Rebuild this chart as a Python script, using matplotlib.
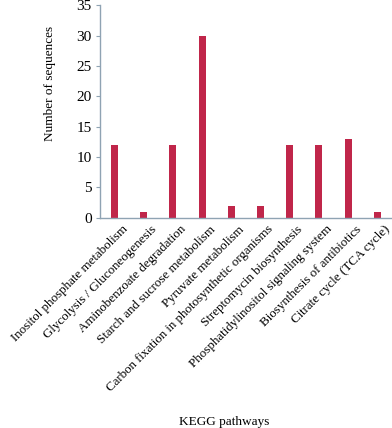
import matplotlib

matplotlib.use("Agg")
import matplotlib.pyplot as plt
import matplotlib.transforms as mtransforms

pathways = [
    "Inositol phosphate metabolism",
    "Glycolysis / Gluconeogenesis",
    "Aminobenzoate degradation",
    "Starch and sucrose metabolism",
    "Pyruvate metabolism",
    "Carbon fixation in photosynthetic organisms",
    "Streptomycin biosynthesis",
    "Phosphatidylinositol signaling system",
    "Biosynthesis of antibiotics",
    "Citrate cycle (TCA cycle)",
]
counts = [12, 1, 12, 30, 2, 2, 12, 12, 13, 1]
y_ticks = [0, 5, 10, 15, 20, 25, 30, 35]

BAR_COLOR = "#C0264A"
AXIS_COLOR = "#8FA3B3"

plt.rcParams["font.family"] = ["Liberation Serif", "DejaVu Serif"]

fig = plt.figure(figsize=(3.92, 4.28), dpi=100)
ax = fig.add_axes([0.255, 0.491, 0.745, 0.497])

x = range(len(pathways))
ax.bar(x, counts, width=0.24, color=BAR_COLOR)

ax.set_xlim(-0.5, len(pathways) - 0.5)
ax.set_ylim(0, 35)
ax.set_yticks(y_ticks)
ax.set_xticks(list(x))
ax.set_xticklabels(pathways, rotation=45, ha="right", rotation_mode="anchor",
                   fontsize=9.4)
ax.tick_params(axis="x", length=0, pad=4)
ax.tick_params(axis="y", length=3, width=0.8, color=AXIS_COLOR, labelsize=11,
               pad=3)

# nudge the rotated labels a bit right, as in the original
shift = mtransforms.ScaledTranslation(5 / 72, 0, fig.dpi_scale_trans)
for lab in ax.get_xticklabels():
    lab.set_transform(lab.get_transform() + shift)

for side in ["top", "right"]:
    ax.spines[side].set_visible(False)
for side in ["left", "bottom"]:
    ax.spines[side].set_color(AXIS_COLOR)
    ax.spines[side].set_linewidth(1.0)

ax.set_ylabel("Number of sequences", fontsize=9.5)
ax.yaxis.set_label_coords(-0.15, 0.634)
ax.set_xlabel("KEGG pathways", fontsize=9.5)
ax.xaxis.set_label_coords(0.427, -0.93)

plt.savefig("out.png", dpi=100)
plt.close()
